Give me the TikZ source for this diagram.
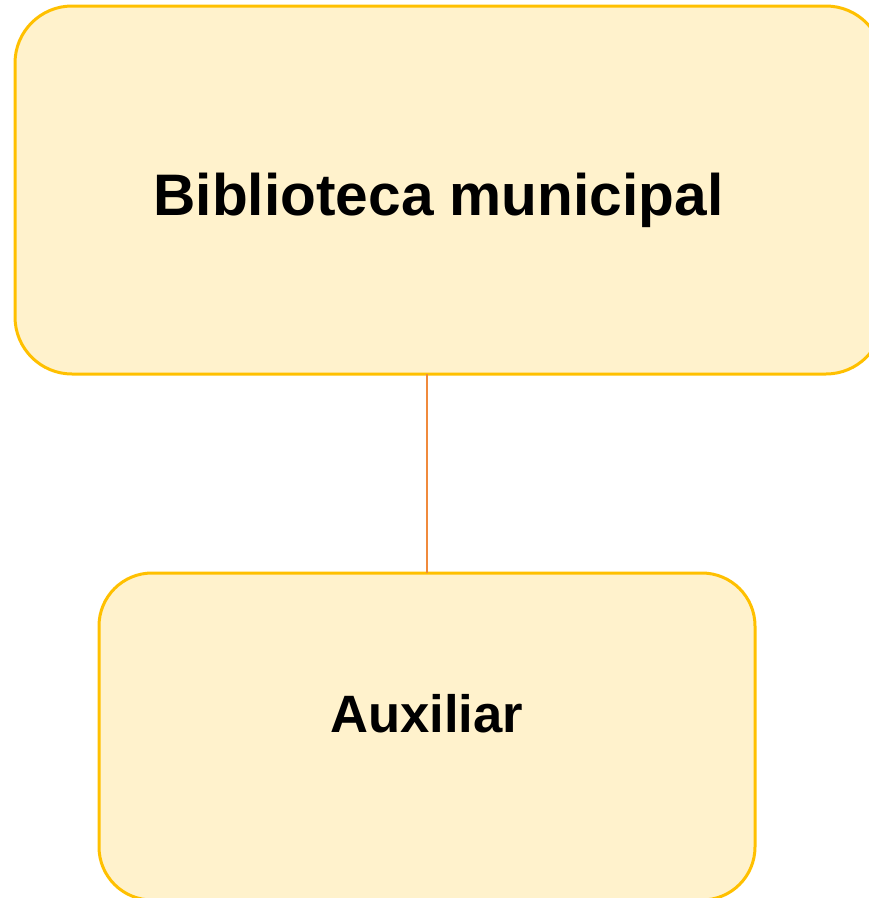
\documentclass[tikz,border=0pt]{standalone}
\usepackage{fontspec}
\setmainfont{Liberation Sans}
\definecolor{boxfill}{HTML}{FFF2CC}
\definecolor{boxline}{HTML}{FFC000}
\definecolor{linkline}{HTML}{F08A3C}
\begin{document}
\begin{tikzpicture}[x=1pt,y=-1pt,
  orgbox/.style={draw=boxline, fill=boxfill, line width=3pt, rounded corners=57pt, inner sep=0pt, outer sep=0pt},
  link/.style={draw=linkline, line width=1.6pt},
  lbl/.style={font=\bfseries, inner sep=0pt, anchor=base}]
\useasboundingbox (0,0) rectangle (869,898);
\node[orgbox, minimum width=868pt, minimum height=368pt] (top) at (449,190) {};
\node[orgbox, minimum width=656pt, minimum height=327pt, rounded corners=53pt] (aux) at (427,736.5) {};
\node[lbl, font=\fontsize{58.6}{60}\selectfont\bfseries] (toplbl) at (438.5,215) {Biblioteca municipal};
\node[lbl, font=\fontsize{52.6}{54}\selectfont\bfseries] (auxlbl) at (426.5,732) {Auxiliar};
\draw[link] (aux.north) -- (aux.north |- top.south);
\end{tikzpicture}
\end{document}
